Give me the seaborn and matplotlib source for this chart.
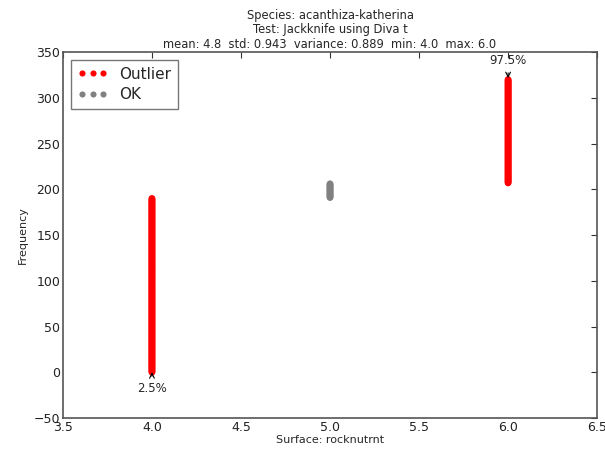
import numpy as np
import pandas as pd
import seaborn as sns
import matplotlib
matplotlib.use("Agg")
import matplotlib.pyplot as plt

# values: each surface value occupies a run of sorted ranks
surface_values = [4.0, 5.0, 6.0]
rank_start = [0, 191, 207]
rank_end = [190, 206, 320]
status = ["Outlier", "OK", "Outlier"]

title_lines = [
    "Species: acanthiza-katherina",
    "Test: Jackknife using Diva t",
    "mean: 4.8  std: 0.943  variance: 0.889  min: 4.0  max: 6.0",
]

rows = []
for v, a, b, s in zip(surface_values, rank_start, rank_end, status):
    for r in range(a, b + 1):
        rows.append((v, r, s))
df = pd.DataFrame(rows, columns=["surface", "frequency", "status"])

sns.set_style("white")
plt.rcParams["font.family"] = ["DejaVu Sans"]
plt.rcParams["xtick.direction"] = "in"
plt.rcParams["ytick.direction"] = "in"
plt.rcParams["xtick.top"] = True
plt.rcParams["ytick.right"] = True

fig = plt.figure(figsize=(6.05, 4.49), dpi=100)
ax = fig.add_axes([0.104, 0.069, 0.883, 0.815])

sns.scatterplot(data=df, x="surface", y="frequency", hue="status",
                hue_order=["Outlier", "OK"],
                palette={"Outlier": "red", "OK": "grey"},
                s=24, linewidth=0, ax=ax)

ax.set_xlim(3.5, 6.5)
ax.set_ylim(-50, 350)
ax.set_xticks(np.arange(3.5, 6.51, 0.5))
ax.set_yticks(np.arange(-50, 351, 50))
ax.tick_params(labelsize=9, length=4, color="#333333", labelcolor="#222222", pad=2)
for sp in ax.spines.values():
    sp.set_color("#555555")
    sp.set_linewidth(1.2)

ax.set_xlabel("Surface: rocknutrnt", fontsize=8, labelpad=1)
ax.set_ylabel("Frequency", fontsize=8, labelpad=4)
ax.set_title("\n".join(title_lines), fontsize=8.3, linespacing=1.15, pad=3)

# percentile markers
ax.annotate("2.5%", xy=(surface_values[0], rank_start[0]), xytext=(surface_values[0], -18),
            ha="center", va="center", fontsize=8.5,
            arrowprops=dict(arrowstyle="->", color="black", lw=0.8, shrinkA=2, shrinkB=0))
ax.annotate("97.5%", xy=(surface_values[2], rank_end[2]), xytext=(surface_values[2], 341),
            ha="center", va="center", fontsize=8.5,
            arrowprops=dict(arrowstyle="->", color="black", lw=0.8, shrinkA=2, shrinkB=1))

leg = ax.legend(loc="upper left", numpoints=3, fontsize=11, frameon=True,
                fancybox=False, borderaxespad=0.5, handletextpad=0.7,
                labelspacing=0.35, borderpad=0.45, markerscale=0.9)
leg.get_frame().set_edgecolor("#555555")
leg.get_frame().set_linewidth(1.0)
leg.set_title(None)

fig.savefig("out.png", dpi=100)
